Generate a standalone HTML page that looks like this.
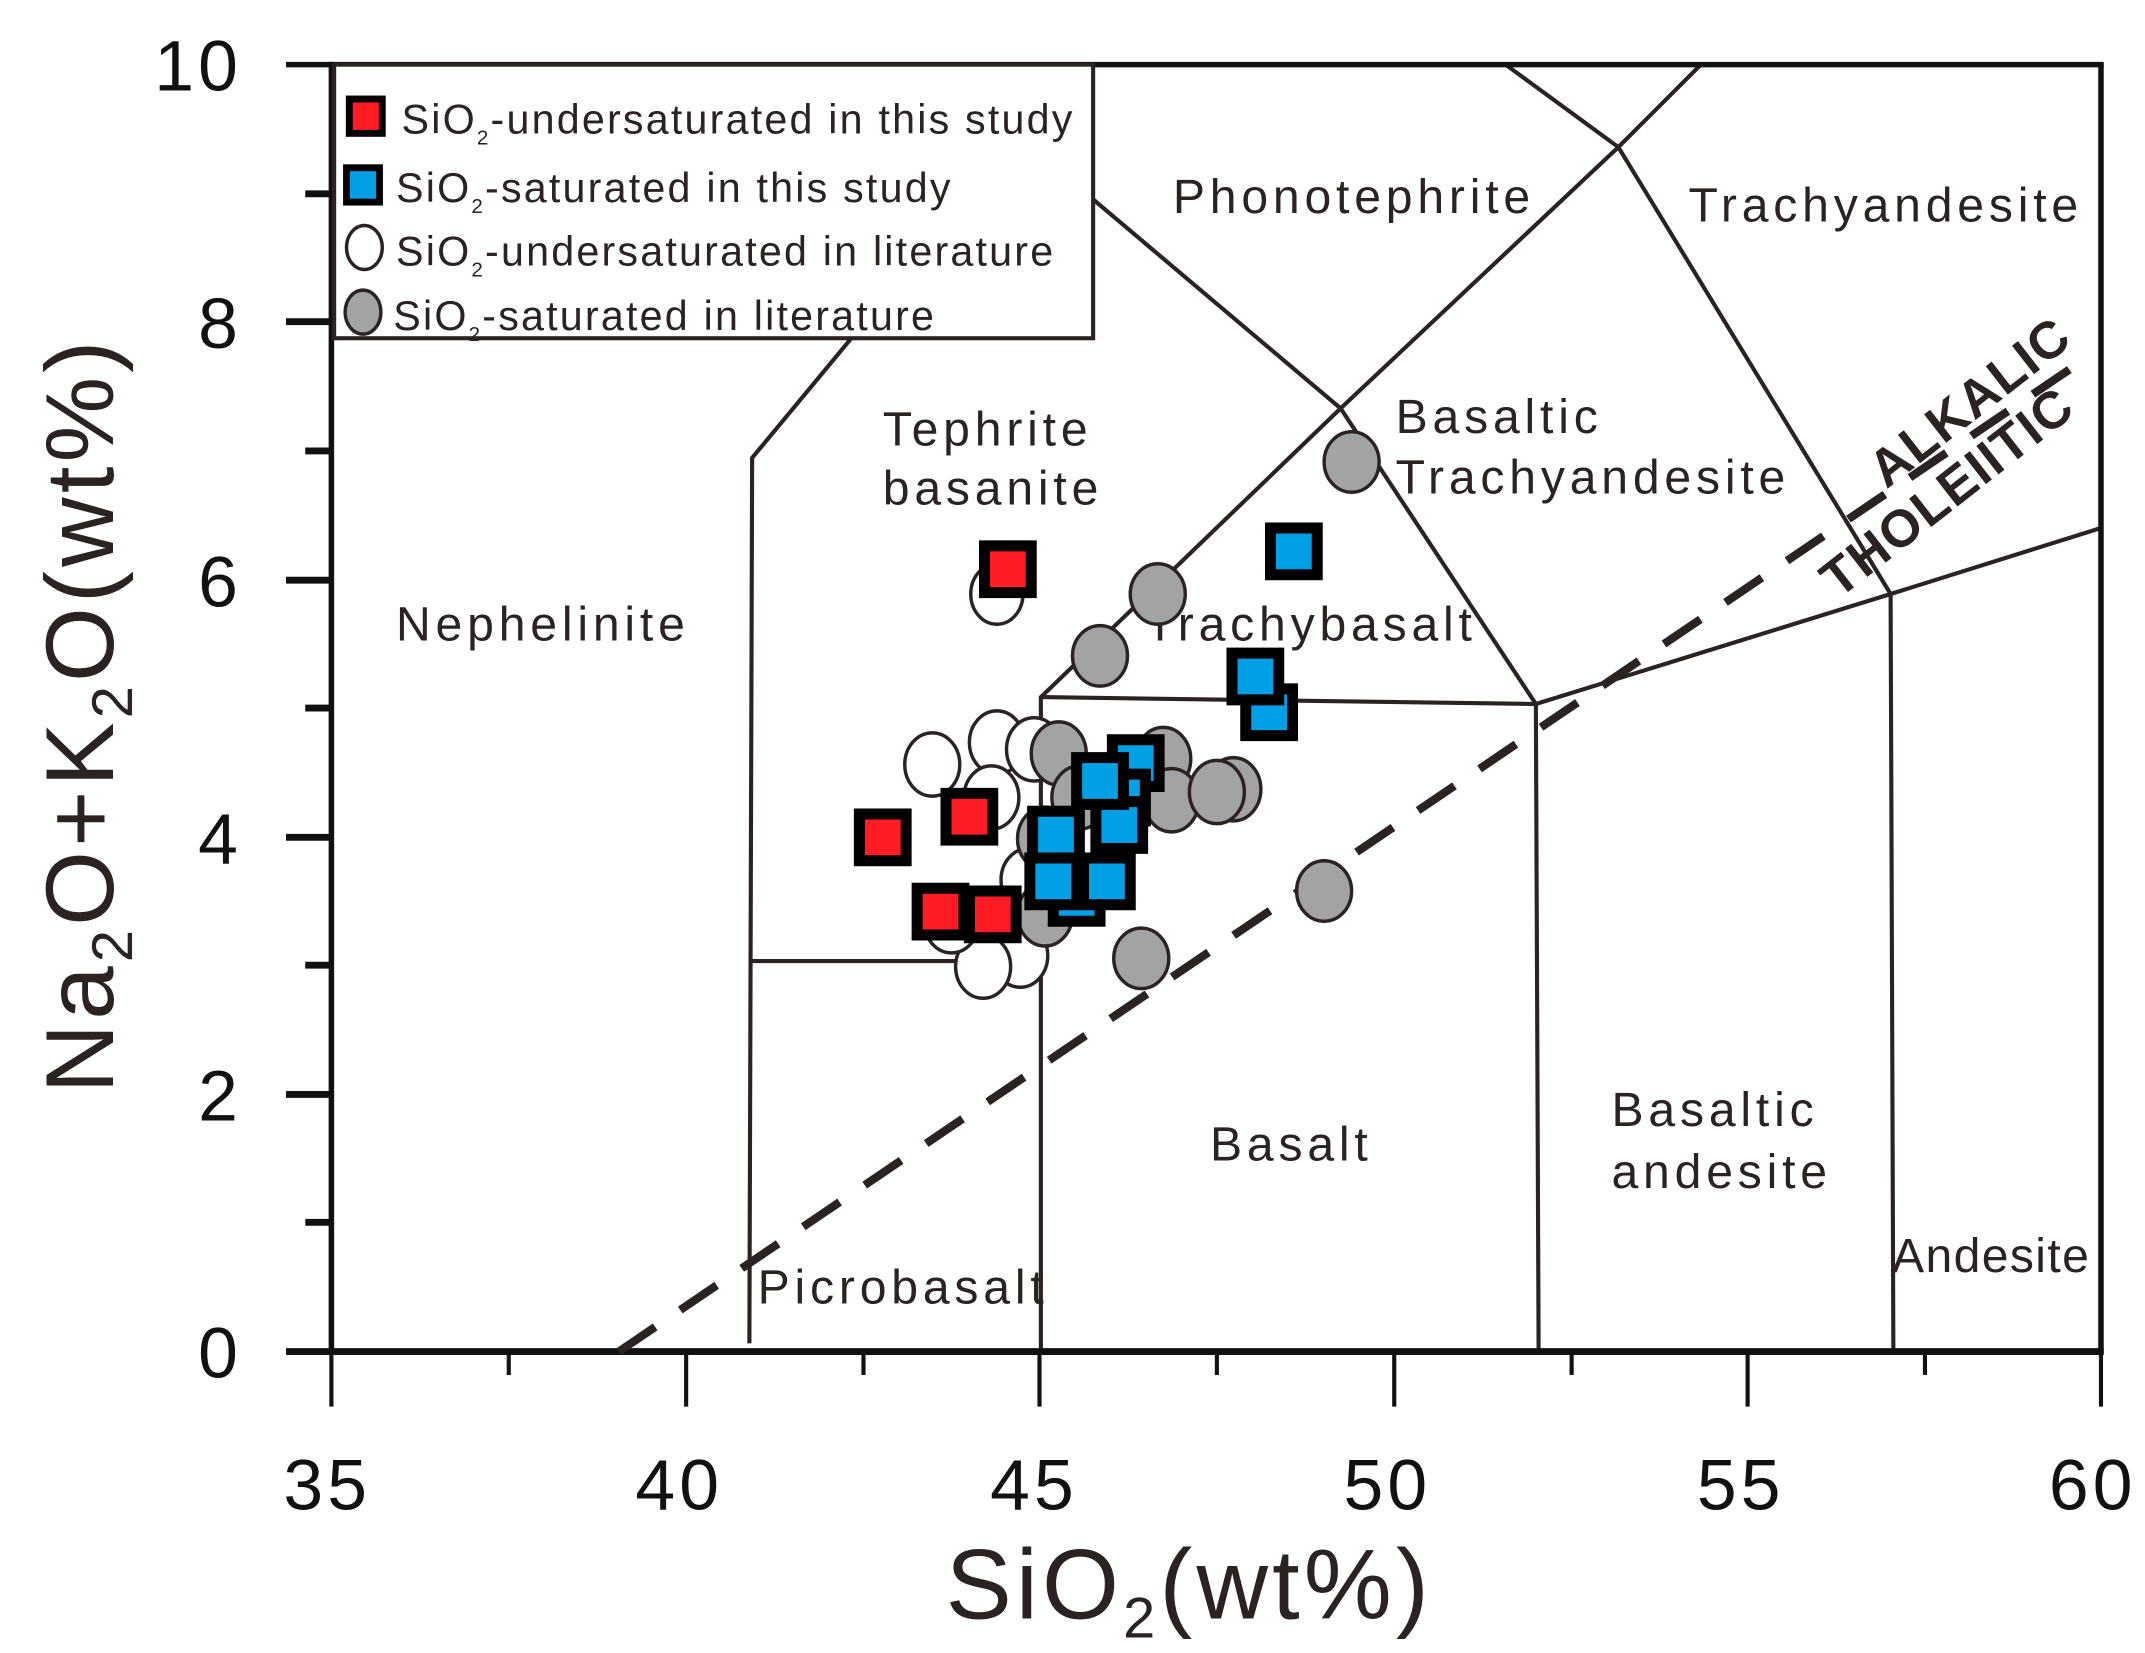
<!DOCTYPE html>
<html><head><style>
html,body{margin:0;padding:0;background:#fff;}
svg{display:block;}
text{font-family:"Liberation Sans",sans-serif;fill:#2b2222;}
</style></head><body>
<svg width="2145" height="1653" viewBox="0 0 1560 1202.2" xmlns="http://www.w3.org/2000/svg">
<rect width="1560" height="1203" fill="#fff"/>
<g stroke="#2b2222" stroke-width="3" fill="none">
<polyline points="545,977 547,333 620,245 680,160"/>
<polyline points="547,699 757,699"/>
<polyline points="757,983 757,507 975,297 1177,107 1237,47"/>
<polyline points="757,507 1117,512 1119,983"/>
<polyline points="975,297 1117,512"/>
<polyline points="795,145 975,297"/>
<polyline points="1095,47 1177,107 1375,432 1377,983"/>
<polyline points="1117,512 1375,432 1528,384"/>
</g>
<g stroke="#111" fill="none">
<line x1="208" y1="47" x2="1530" y2="47" stroke-width="4"/>
<line x1="1528" y1="47" x2="1528" y2="985" stroke-width="4"/>
<line x1="241" y1="45" x2="241" y2="985" stroke-width="4"/>
<line x1="208" y1="983" x2="1530" y2="983" stroke-width="5"/>
</g>
<g stroke="#111" stroke-width="3">
<line x1="241" y1="983" x2="241" y2="1023"/><line x1="499" y1="983" x2="499" y2="1023"/><line x1="756" y1="983" x2="756" y2="1023"/><line x1="1014" y1="983" x2="1014" y2="1023"/><line x1="1271" y1="983" x2="1271" y2="1023"/><line x1="1528" y1="983" x2="1528" y2="1023"/>
<line x1="370" y1="983" x2="370" y2="1000"/><line x1="628" y1="983" x2="628" y2="1000"/><line x1="885" y1="983" x2="885" y2="1000"/><line x1="1143" y1="983" x2="1143" y2="1000"/><line x1="1400" y1="983" x2="1400" y2="1000"/>
</g>
<g stroke="#111" stroke-width="5">
<line x1="208" y1="796" x2="241" y2="796"/><line x1="208" y1="609" x2="241" y2="609"/><line x1="208" y1="422" x2="241" y2="422"/><line x1="208" y1="234" x2="241" y2="234"/>
<line x1="222" y1="889" x2="241" y2="889"/><line x1="222" y1="702" x2="241" y2="702"/><line x1="222" y1="515" x2="241" y2="515"/><line x1="222" y1="328" x2="241" y2="328"/><line x1="222" y1="141" x2="241" y2="141"/>
</g>
<g font-size="52" text-anchor="middle" letter-spacing="3">
<text x="238" y="1098" style="fill:#111">35</text><text x="494" y="1098" style="fill:#111">40</text><text x="752" y="1098" style="fill:#111">45</text><text x="1009" y="1098" style="fill:#111">50</text><text x="1266" y="1098" style="fill:#111">55</text><text x="1522" y="1098" style="fill:#111">60</text>
</g>
<g font-size="52" text-anchor="end" letter-spacing="3">
<text x="176" y="1002" style="fill:#111">0</text><text x="176" y="815" style="fill:#111">2</text><text x="176" y="628" style="fill:#111">4</text><text x="176" y="441" style="fill:#111">6</text><text x="176" y="253" style="fill:#111">8</text><text x="176" y="66" style="fill:#111">10</text>
</g>
<text x="865" y="1177" font-size="72" text-anchor="middle" letter-spacing="3">SiO<tspan font-size="42" dy="14">2</tspan><tspan dy="-14">(wt%)</tspan></text>
<text transform="translate(82,520) rotate(-90)" font-size="70" text-anchor="middle" letter-spacing="3">Na<tspan font-size="42" dy="14">2</tspan><tspan dy="-14">O+K</tspan><tspan font-size="42" dy="14">2</tspan><tspan dy="-14">O(wt%)</tspan></text>
<line x1="450" y1="983" x2="1515" y2="262" stroke="#2b2222" stroke-width="6" stroke-dasharray="32,22"/>
<g font-size="35" letter-spacing="3.5">
<text x="853" y="155">Phonotephrite</text>
<text x="1228" y="161">Trachyandesite</text>
<text x="642" y="324">Tephrite</text>
<text x="642" y="367">basanite</text>
<text x="1015" y="315">Basaltic</text>
<text x="1015" y="359">Trachyandesite</text>
<text x="288" y="466">Nephelinite</text>
<text x="833" y="466">Trachybasalt</text>
<text x="880" y="844">Basalt</text>
<text x="1172" y="819">Basaltic</text>
<text x="1172" y="864">andesite</text>
<text x="551" y="948">Picrobasalt</text>
<text x="1376" y="925" letter-spacing="1">Andesite</text>
</g>
<g font-size="38" font-weight="bold" letter-spacing="1">
<text transform="translate(1372,356) rotate(-38)">ALKALIC</text>
<text transform="translate(1337,436) rotate(-38)">THOLEIITIC</text>
</g>
<g stroke="#2b2222" stroke-width="2.5" fill="#fff">
<ellipse cx="725" cy="432" rx="19" ry="22"/><ellipse cx="678" cy="556" rx="20" ry="23"/><ellipse cx="725" cy="540" rx="20" ry="23"/><ellipse cx="752" cy="545" rx="20" ry="23"/><ellipse cx="721" cy="580" rx="20" ry="23"/><ellipse cx="748" cy="640" rx="20" ry="23"/><ellipse cx="742" cy="695" rx="20" ry="23"/><ellipse cx="715" cy="703" rx="20" ry="23"/><ellipse cx="692" cy="670" rx="20" ry="23"/>
</g>
<g stroke="#2b2222" stroke-width="2.5" fill="#a3a3a3">
<ellipse cx="983" cy="336" rx="20" ry="22"/><ellipse cx="842" cy="432" rx="20" ry="22"/><ellipse cx="800" cy="477" rx="20" ry="22"/><ellipse cx="770" cy="548" rx="20" ry="23"/><ellipse cx="846" cy="552" rx="20" ry="23"/><ellipse cx="852" cy="582" rx="20" ry="23"/><ellipse cx="897" cy="574" rx="20" ry="23"/><ellipse cx="885" cy="576" rx="20" ry="23"/><ellipse cx="963" cy="648" rx="20" ry="22"/><ellipse cx="830" cy="697" rx="20" ry="22"/><ellipse cx="760" cy="665" rx="20" ry="23"/><ellipse cx="760" cy="610" rx="20" ry="23"/><ellipse cx="785" cy="580" rx="20" ry="23"/>
</g>
<g stroke="#000" stroke-width="8" fill="#ff1c25">
<rect x="716" y="397" width="34" height="34"/><rect x="625" y="592" width="34" height="34"/><rect x="688" y="577" width="34" height="34"/><rect x="667" y="646" width="34" height="34"/><rect x="705" y="648" width="34" height="34"/>
</g>
<g stroke="#000" stroke-width="8" fill="#00a0e6">
<rect x="924" y="384" width="34" height="34"/><rect x="906" y="501" width="34" height="34"/><rect x="896" y="475" width="34" height="34"/><rect x="809" y="538" width="34" height="34"/><rect x="799" y="563" width="34" height="34"/><rect x="797" y="583" width="34" height="34"/><rect x="783" y="551" width="34" height="34"/><rect x="766" y="636" width="34" height="34"/><rect x="788" y="624" width="34" height="34"/><rect x="749" y="624" width="34" height="34"/><rect x="751" y="590" width="34" height="34"/>
</g>
<rect x="243" y="47" width="552" height="199" fill="#fff" stroke="#2b2222" stroke-width="3"/>
<rect x="254" y="72" width="24" height="25" fill="#ff1c25" stroke="#000" stroke-width="5"/>
<rect x="252" y="122" width="24" height="25" fill="#00a0e6" stroke="#000" stroke-width="5"/>
<ellipse cx="265" cy="180" rx="13" ry="16" fill="#fff" stroke="#2b2222" stroke-width="2.5"/>
<ellipse cx="264" cy="227" rx="13" ry="16" fill="#a3a3a3" stroke="#2b2222" stroke-width="2.5"/>
<g font-size="30" letter-spacing="1.6">
<text x="292" y="97">SiO<tspan font-size="15" dy="8">2</tspan><tspan dy="-8">-undersaturated in this study</tspan></text>
<text x="288" y="147">SiO<tspan font-size="15" dy="8">2</tspan><tspan dy="-8">-saturated in this study</tspan></text>
<text x="288" y="193">SiO<tspan font-size="15" dy="8">2</tspan><tspan dy="-8">-undersaturated in literature</tspan></text>
<text x="286" y="240">SiO<tspan font-size="15" dy="8">2</tspan><tspan dy="-8">-saturated in literature</tspan></text>
</g>
</svg>
</body></html>
